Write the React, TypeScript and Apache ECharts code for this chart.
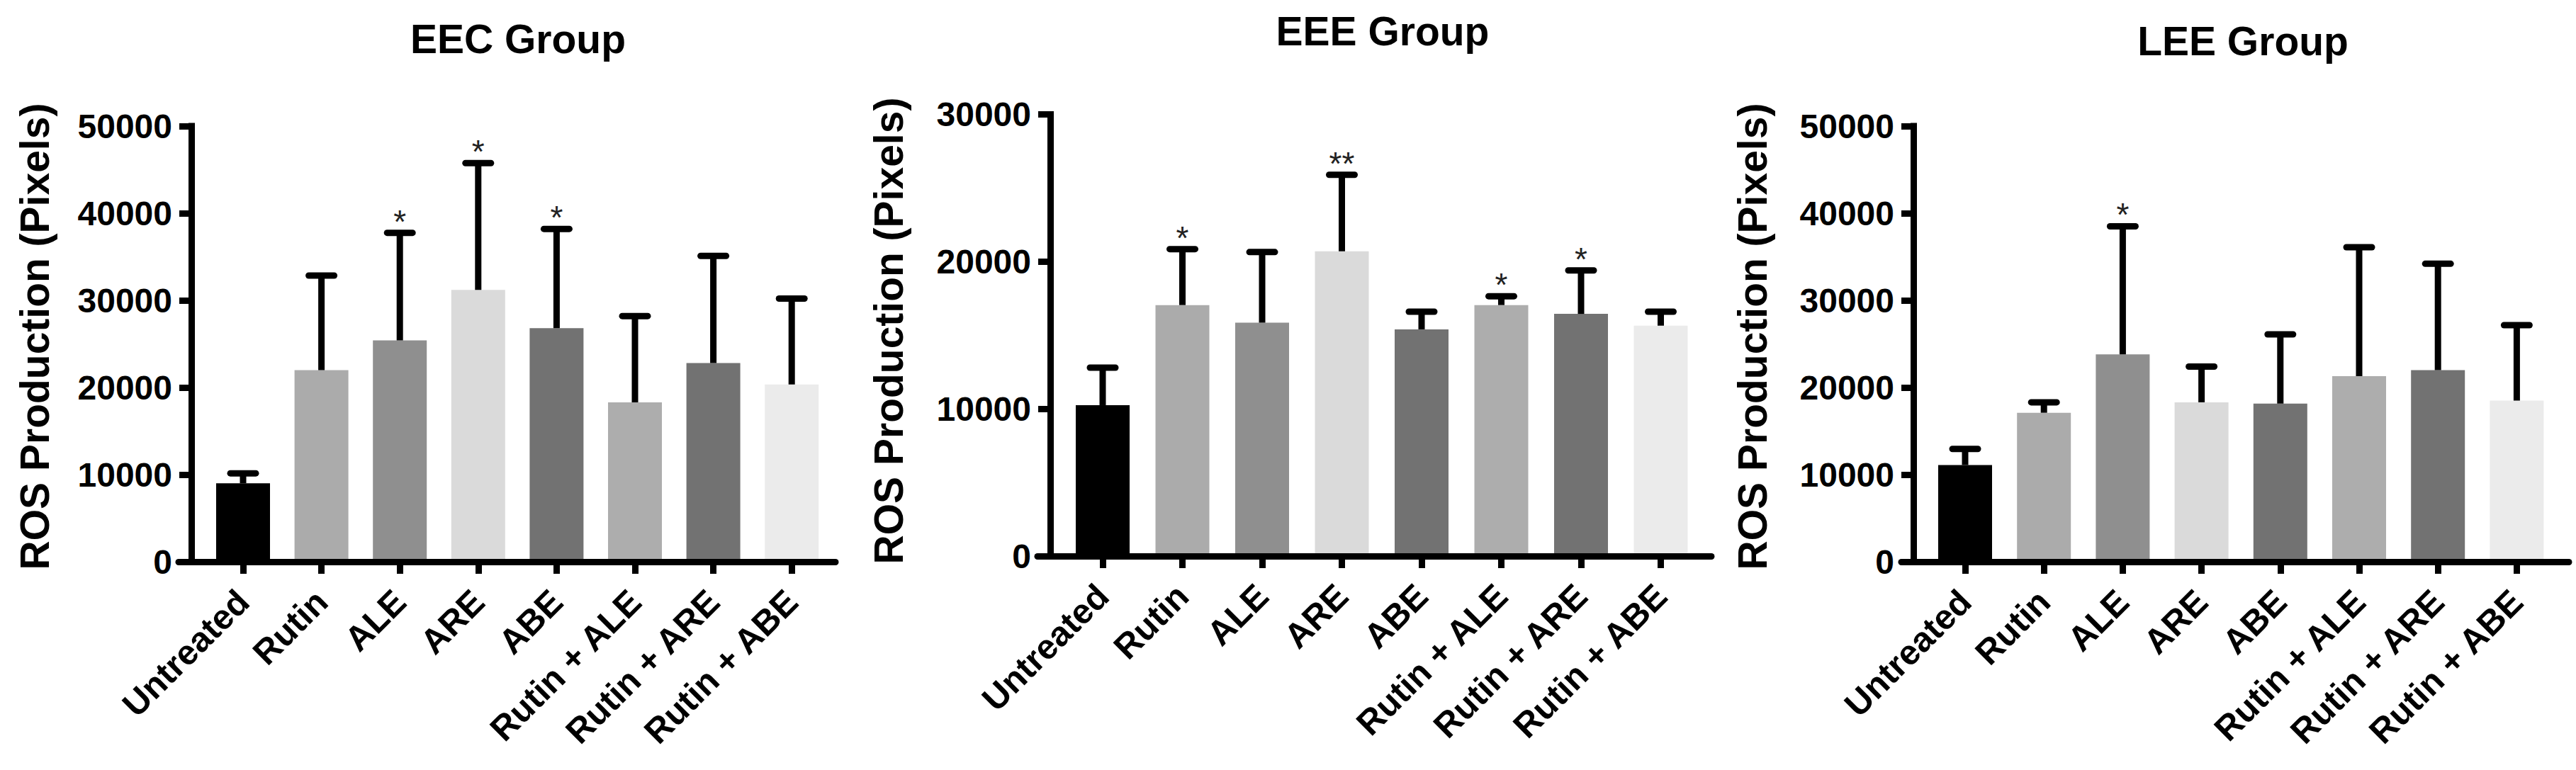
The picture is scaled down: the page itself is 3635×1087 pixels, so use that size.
import React, { useEffect, useRef } from "react";
import * as echarts from "echarts";

// ---------- data ----------
const categories = [
  "Untreated",
  "Rutin",
  "ALE",
  "ARE",
  "ABE",
  "Rutin + ALE",
  "Rutin + ARE",
  "Rutin + ABE",
];

const eecMean = [9000, 22000, 25400, 31200, 26800, 18300, 22800, 20350];
const eecUpper = [10150, 32850, 37750, 45750, 38200, 28200, 35100, 30200];
const eecStars = ["", "", "*", "*", "*", "", "", ""];

const eeeMean = [10250, 17050, 15850, 20700, 15400, 17050, 16450, 15650];
const eeeUpper = [12800, 20850, 20650, 25900, 16600, 17650, 19400, 16600];
const eeeStars = ["", "*", "", "**", "", "*", "*", ""];

const leeMean = [11100, 17100, 23800, 18300, 18150, 21300, 22000, 18500];
const leeUpper = [12950, 18300, 38500, 22400, 26100, 36100, 34200, 27150];
const leeStars = ["", "", "*", "", "", "", "", ""];

const titles = ["EEC Group", "EEE Group", "LEE Group"];
const yAxisName = "ROS Production (Pixels)";
const yMaxes = [50000, 30000, 50000];
const yInterval = 10000;

// ---------- styles / layout ----------
const barColors = [
  "#000000",
  "#ababab",
  "#8f8f8f",
  "#dadada",
  "#727272",
  "#adadad",
  "#727272",
  "#ebebeb",
];
const FONT = "Liberation Sans, Arial, sans-serif";

const layouts = [
  { axisLeft: 252, axisRight: 1179, yAxisX: 270, firstCenter: 343, step: 110.6, top: 178, bottom: 793, titleX: 731, titleY: 55, nameX: 49, nameY: 475 },
  { axisLeft: 1464, axisRight: 2415, yAxisX: 1482, firstCenter: 1556, step: 112.5, top: 161.5, bottom: 785, titleX: 1951, titleY: 44, nameX: 1254, nameY: 467 },
  { axisLeft: 2683, axisRight: 3625, yAxisX: 2700, firstCenter: 2773, step: 111.2, top: 178, bottom: 793, titleX: 3165, titleY: 58, nameX: 2473, nameY: 475 },
];

const panels = [
  { mean: eecMean, upper: eecUpper, stars: eecStars },
  { mean: eeeMean, upper: eeeUpper, stars: eeeStars },
  { mean: leeMean, upper: leeUpper, stars: leeStars },
];

const W = 3635;
const H = 1087;

function buildOption() {
  const grid: any[] = [];
  const xAxis: any[] = [];
  const yAxis: any[] = [];
  const series: any[] = [];
  const graphic: any[] = [];

  panels.forEach((p, k) => {
    const L = layouts[k];
    const gA = 2 * k;
    const gB = 2 * k + 1;
    const bLeft = L.firstCenter - L.step / 2;
    const bWidth = L.step * categories.length;

    grid.push({
      left: L.axisLeft,
      top: L.top,
      width: L.axisRight - L.axisLeft,
      height: L.bottom - L.top,
      containLabel: false,
    });
    grid.push({
      left: bLeft,
      top: L.top,
      width: bWidth,
      height: L.bottom - L.top,
      containLabel: false,
    });

    // grid A: baseline only
    xAxis.push({
      gridIndex: gA,
      type: "value",
      min: 0,
      max: 1,
      z: 10,
      axisLine: { show: true, lineStyle: { color: "#000", width: 9 } },
      axisTick: { show: false },
      axisLabel: { show: false },
      splitLine: { show: false },
    });
    yAxis.push({
      gridIndex: gA,
      type: "value",
      min: 0,
      max: 1,
      show: false,
    });

    // grid B: bars
    xAxis.push({
      gridIndex: gB,
      type: "category",
      data: categories,
      boundaryGap: true,
      axisLine: { show: false },
      axisTick: {
        show: true,
        alignWithLabel: true,
        length: 17,
        lineStyle: { color: "#000", width: 9 },
      },
      axisLabel: {
        interval: 0,
        rotate: 45,
        margin: 48,
        fontSize: 49,
        fontWeight: "bold",
        color: "#000",
        fontFamily: FONT,
      },
      splitLine: { show: false },
    });
    yAxis.push({
      gridIndex: gB,
      type: "value",
      min: 0,
      max: yMaxes[k],
      interval: yInterval,
      offset: bLeft - L.yAxisX,
      z: 10,
      axisLine: {
        show: true,
        lineStyle: { color: "#000", width: 9, cap: "square" },
      },
      axisTick: { show: true, length: 17, lineStyle: { color: "#000", width: 9 } },
      axisLabel: {
        margin: 27,
        fontSize: 48,
        fontWeight: "bold",
        color: "#000",
        fontFamily: FONT,
        formatter: (v: number) => String(v),
      },
      splitLine: { show: false },
    });

    series.push({
      type: "bar",
      xAxisIndex: gB,
      yAxisIndex: gB,
      barWidth: 76,
      z: 2,
      data: p.mean.map((v, i) => ({ value: v, itemStyle: { color: barColors[i] } })),
    });

    const stars = p.stars;
    series.push({
      type: "custom",
      xAxisIndex: gB,
      yAxisIndex: gB,
      z: 5,
      data: p.mean.map((m, i) => [i, m, p.upper[i]]),
      renderItem: (params: any, api: any) => {
        const top = api.coord([api.value(0), api.value(2)]);
        const base = api.coord([api.value(0), api.value(1)]);
        const children: any[] = [
          {
            type: "line",
            shape: { x1: top[0], y1: base[1], x2: top[0], y2: top[1] },
            style: { stroke: "#000", lineWidth: 9 },
          },
          {
            type: "line",
            shape: { x1: top[0] - 18, y1: top[1], x2: top[0] + 18, y2: top[1] },
            style: { stroke: "#000", lineWidth: 9, lineCap: "round" },
          },
        ];
        const s = stars[params.dataIndex];
        if (s) {
          children.push({
            type: "text",
            x: top[0],
            y: top[1] - 16,
            style: {
              text: s,
              fill: "#222",
              fontSize: 46,
              fontFamily: FONT,
              align: "center",
              verticalAlign: "middle",
            },
          });
        }
        return { type: "group", children };
      },
    });

    graphic.push({
      type: "text",
      x: L.titleX,
      y: L.titleY,
      style: {
        text: titles[k],
        fontSize: 57,
        fontWeight: "bold",
        fontFamily: FONT,
        fill: "#000",
        align: "center",
        verticalAlign: "middle",
      },
    });
    graphic.push({
      type: "text",
      x: L.nameX,
      y: L.nameY,
      rotation: Math.PI / 2,
      style: {
        text: yAxisName,
        fontSize: 57,
        fontWeight: "bold",
        fontFamily: FONT,
        fill: "#000",
        align: "center",
        verticalAlign: "middle",
      },
    });
  });

  return {
    animation: false,
    backgroundColor: "#ffffff",
    textStyle: { fontFamily: FONT },
    grid,
    xAxis,
    yAxis,
    series,
    graphic,
  };
}

export default function App() {
  const ref = useRef<HTMLDivElement>(null);
  useEffect(() => {
    if (!ref.current) return;
    const chart = echarts.init(ref.current, undefined, { renderer: "svg", width: W, height: H });
    chart.setOption(buildOption() as any);
    return () => chart.dispose();
  }, []);
  return (
    <div
      ref={ref}
      style={{ position: "fixed", left: 0, top: 0, width: W, height: H, background: "#fff" }}
    />
  );
}
